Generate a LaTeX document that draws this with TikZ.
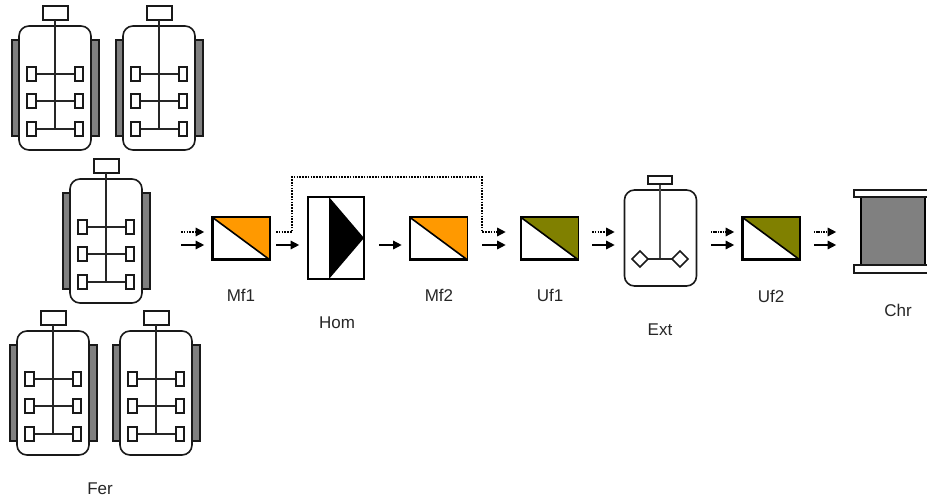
\documentclass[tikz,border=0pt]{standalone}
\usepackage{fontspec}
\setmainfont{Liberation Sans}
\usetikzlibrary{arrows.meta}
\definecolor{orng}{RGB}{255,153,0}
\definecolor{olv}{RGB}{128,128,0}
\definecolor{gry}{RGB}{128,128,128}
\tikzset{
  x=1pt,y=-1pt,
  ln/.style={draw=black!90,line width=1.6pt},
  thin ln/.style={draw=black!85,line width=1.2pt},
  lab/.style={font=\fontsize{17}{19}\selectfont,text=black!85,inner sep=0pt},
  tip/.style={-{Triangle[length=8.5pt,width=8.5pt]},line width=1.4pt,draw=black},
  sol/.style={tip},
  dot/.style={tip,dash pattern=on 1.6pt off 1.2pt},
  fine dot/.style={tip,dash pattern=on 1.2pt off .5pt},
  unit/.style={minimum width=56pt,minimum height=41pt,inner sep=0pt,draw=black,line width=1.6pt},
  pics/ferm/.style={code={
    \fill[gry,ln] (12,40) rectangle (19,136);
    \fill[gry,ln] (91,40) rectangle (99,136);
    \draw[ln,fill=white,rounded corners=10pt] (19,26) rectangle (91,150);
    \draw[ln,fill=white] (43,6) rectangle (68,20);
    \draw[thin ln] (55,20) -- (55,129);
    \foreach \y in {74,101,129}{
      \draw[thin ln] (36,\y) -- (75,\y);
      \draw[ln,fill=white] (27,\y-7) rectangle (36,\y+7);
      \draw[ln,fill=white] (75,\y-7) rectangle (83,\y+7);
    }
  }}
}
\newcommand{\filt}[2]{%
  \fill[#2] (#1.north west) -- (#1.north east) -- (#1.south east) -- cycle;
  \draw[line width=1.6pt] (#1.north west) -- (#1.south east);
  \draw[line width=1.6pt] (#1.north west) rectangle (#1.south east);
}
\begin{document}
\begin{tikzpicture}
\useasboundingbox (0,0) rectangle (927,500);
\pic at (0,0) {ferm};
\pic at (104,0) {ferm};
\pic at (51,153) {ferm};
\pic at (-2,305) {ferm};
\pic at (101,305) {ferm};
% units
\node[unit] (mf1) at (241,238.5) {};
\filt{mf1}{orng}
\node[unit,minimum height=82pt] (hom) at (336,238) {};
\fill[black] (329,197) -- (364,238) -- (329,279) -- cycle;
\node[unit] (mf2) at (438.5,238.5) {};
\filt{mf2}{orng}
\node[unit] (uf1) at (549.5,238.5) {};
\filt{uf1}{olv}
\node[unit] (uf2) at (771,238.5) {};
\filt{uf2}{olv}
% extractor
\node[draw=black!90,line width=1.6pt,rounded corners=10pt,minimum width=72pt,minimum height=96pt,inner sep=0pt] (ext) at (660.5,238) {};
\node[draw=black!90,line width=1.6pt,minimum width=24pt,minimum height=8pt,inner sep=0pt] (mot) at (660,180) {};
\draw[thin ln,draw=black!70] (mot.south) -- (660,259);
\draw[thin ln] (647,259) -- (673,259);
\draw[ln,fill=white] (640,251) -- (648,259) -- (640,267) -- (632,259) -- cycle;
\draw[ln,fill=white] (680,251) -- (688,259) -- (680,267) -- (672,259) -- cycle;
% chromatography
\node[draw=black,line width=1.6pt,fill=gry,minimum width=64pt,minimum height=68pt,inner sep=0pt] (chr) at (893,231) {};
\draw[ln,fill=white] (854,190) rectangle (930,197);
\draw[ln,fill=white] (854,265) rectangle (930,273);
% arrows
\coordinate (a1) at (181,232); \coordinate (a2) at (181,245);
\draw[dot,shorten >=8pt] (a1) -- (mf1.west |- a1);
\draw[sol,shorten >=8pt] (a2) -- (mf1.west |- a2);
\coordinate (b1) at (276,232); \coordinate (b2) at (276,245);
\coordinate (b3) at (292,177); \coordinate (b4) at (482,177);
\draw[dot,shorten >=15pt] (b1) -| (b3) -- (b4) |- (uf1.west |- b1);
\draw[sol,shorten >=8pt] (b2) -- (hom.west |- b2);
\coordinate (c2) at (379,245);
\draw[sol,shorten >=8pt] (c2) -- (mf2.west |- c2);
\coordinate (d2) at (482,245);
\draw[sol,shorten >=15pt] (d2) -- (uf1.west |- d2);
\coordinate (e1) at (592,232); \coordinate (e2) at (592,245);
\draw[dot,shorten >=9pt] (e1) -- (ext.west |- e1);
\draw[sol,shorten >=9pt] (e2) -- (ext.west |- e2);
\coordinate (f1) at (711,232); \coordinate (f2) at (711,245);
\draw[fine dot,shorten >=8pt] (f1) -- (uf2.west |- f1);
\draw[sol,shorten >=8pt] (f2) -- (uf2.west |- f2);
\coordinate (g1) at (814,232); \coordinate (g2) at (814,245);
\draw[fine dot,shorten >=24pt] (g1) -- (chr.west |- g1);
\draw[sol,shorten >=24pt] (g2) -- (chr.west |- g2);
% labels
\node[lab] (lmf1) at (241,295) {Mf1};
\node[lab] (lhom) at (337,323) {Hom};
\node[lab] (lmf2) at (439,295) {Mf2};
\node[lab] (luf1) at (550,295) {Uf1};
\node[lab] (lext) at (660,330) {Ext};
\node[lab] (luf2) at (771,296) {Uf2};
\node[lab] (lchr) at (898,310) {Chr};
\node[lab] (lfer) at (100,489) {Fer};
\end{tikzpicture}
\end{document}
